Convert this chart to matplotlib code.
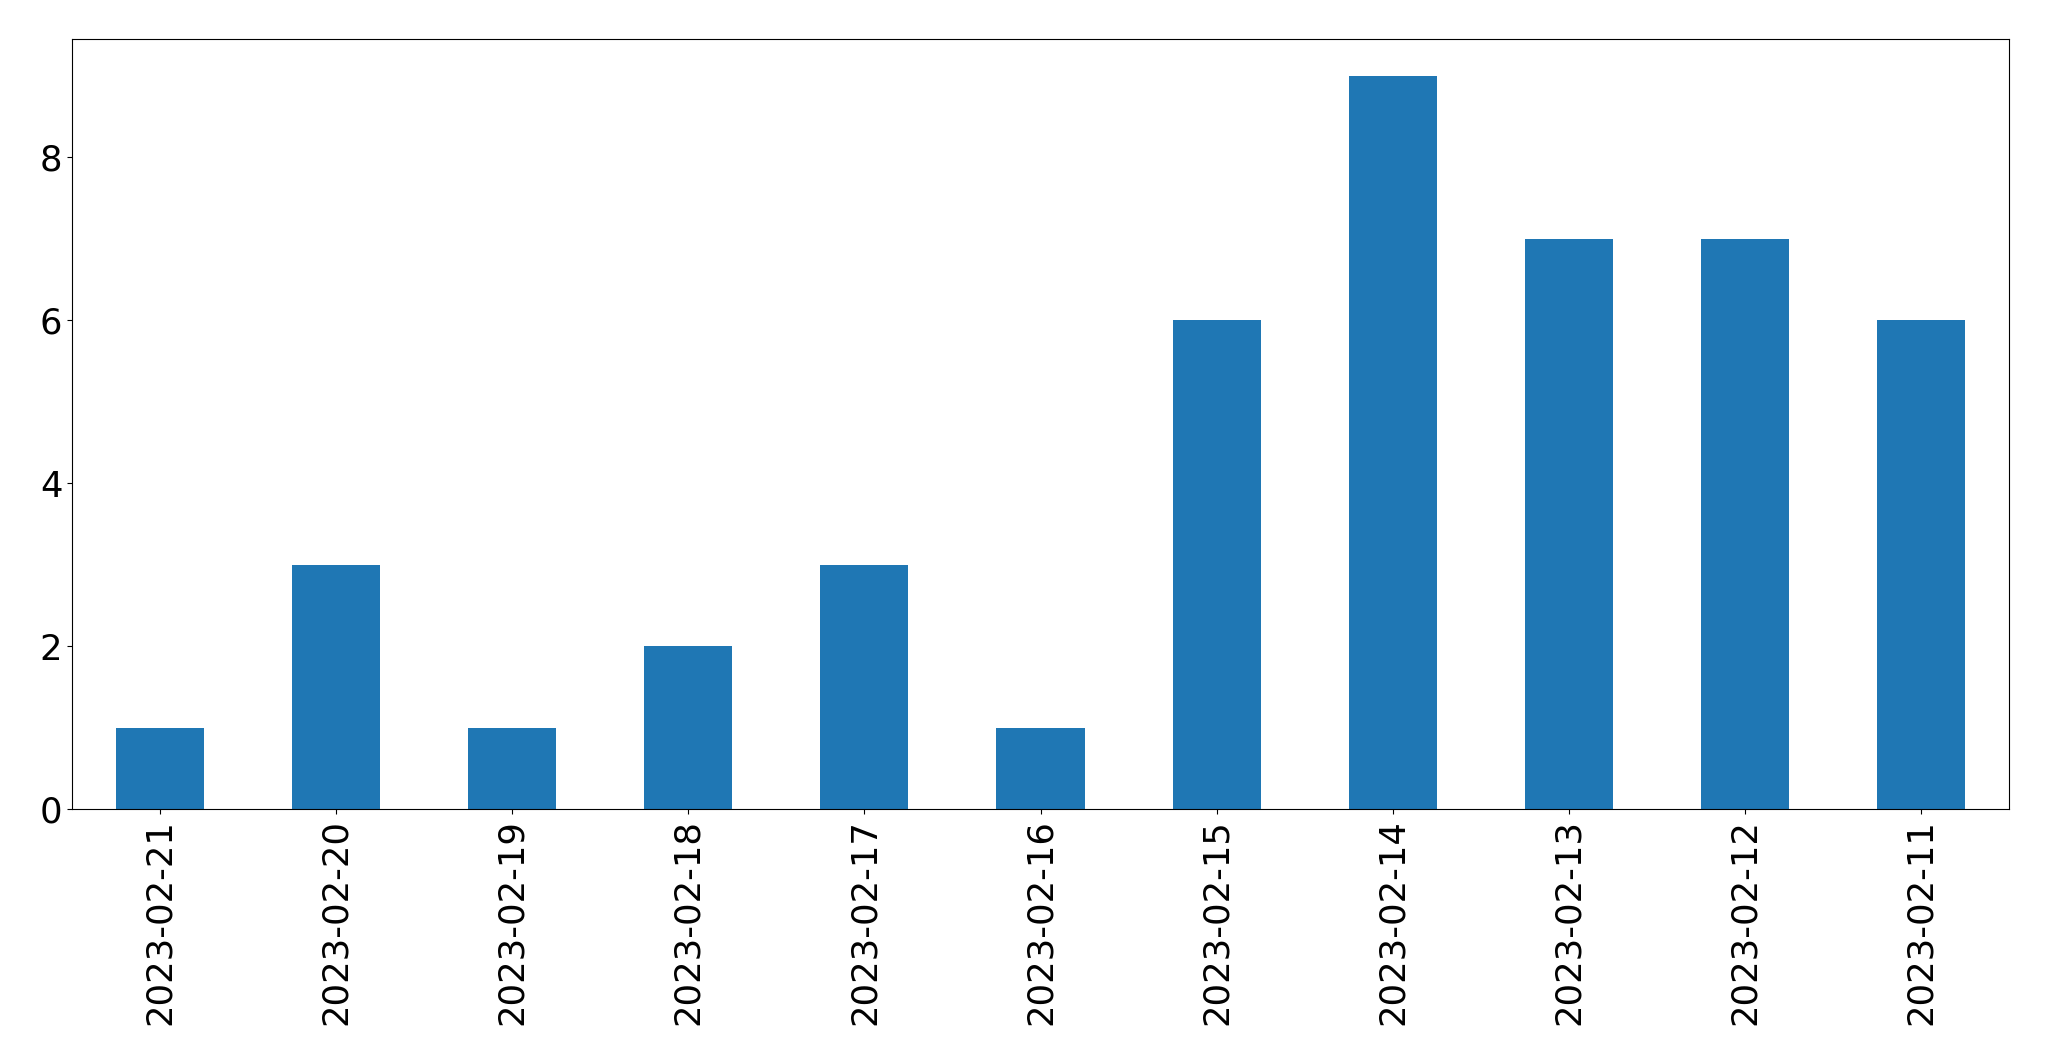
import matplotlib
matplotlib.use("Agg")
import matplotlib.pyplot as plt
import pandas as pd

dates = ["2023-02-21", "2023-02-20", "2023-02-19", "2023-02-18", "2023-02-17",
         "2023-02-16", "2023-02-15", "2023-02-14", "2023-02-13", "2023-02-12",
         "2023-02-11"]
counts = [1, 3, 1, 2, 3, 1, 6, 9, 7, 7, 6]

s = pd.Series(counts, index=dates)

fig = plt.figure(figsize=(20.49, 10.61), dpi=100)
ax = fig.add_axes([72 / 2049, 1 - 809 / 1061, (2009 - 72) / 2049, (809 - 39) / 1061])
s.plot(kind="bar", ax=ax, color="#1f77b4")
ax.tick_params(labelsize=25.5)
fig.savefig("out.png", dpi=100)
